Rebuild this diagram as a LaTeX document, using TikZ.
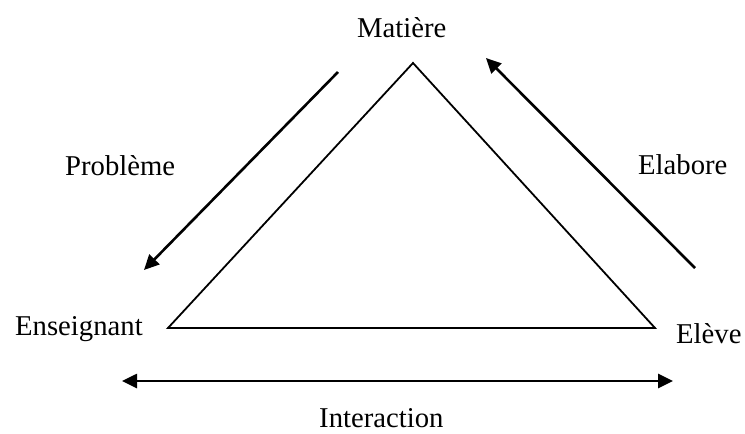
\documentclass[tikz,border=0pt]{standalone}
\usepackage{fontspec}
\setmainfont{Liberation Serif}
\usetikzlibrary{arrows.meta}
\begin{document}
\begin{tikzpicture}[x=1pt,y=-1pt,
  lbl/.style={anchor=base west,inner sep=0pt,font=\fontsize{28.7}{32}\selectfont},
  tri/.style={line width=1.8pt,line join=miter},
  arr/.style={line width=2.6pt,-{Triangle[length=15pt,width=14pt]}},
  darr/.style={line width=2.6pt,{Triangle[length=15pt,width=14pt]}-{Triangle[length=15pt,width=14pt]}}]
\useasboundingbox (0,0) rectangle (745,434);
\coordinate (A) at (413,63);
\coordinate (B) at (168,328);
\coordinate (C) at (655,328);
\draw[tri] (A) -- (B) -- (C) -- cycle;
\node[lbl] (mat) at (357,37) {Matière};
\node[lbl] (ens) at (15,335) {Enseignant};
\node[lbl] (elv) at (676,343) {Elève};
\node[lbl] (pb) at (65,175) {Problème};
\node[lbl] (ela) at (638,174) {Elabore};
\node[lbl] (int) at (319,427) {Interaction};
\coordinate (p1) at (338,72);
\coordinate (p2) at (144,270);
\coordinate (e1) at (695,268);
\coordinate (e2) at (486,58);
\coordinate (i1) at (122,381);
\coordinate (i2) at (673,381);
\draw[arr] (p1) -- (p2);
\draw[arr] (e1) -- (e2);
\draw[darr] (i1) -- (i2);
\end{tikzpicture}
\end{document}
